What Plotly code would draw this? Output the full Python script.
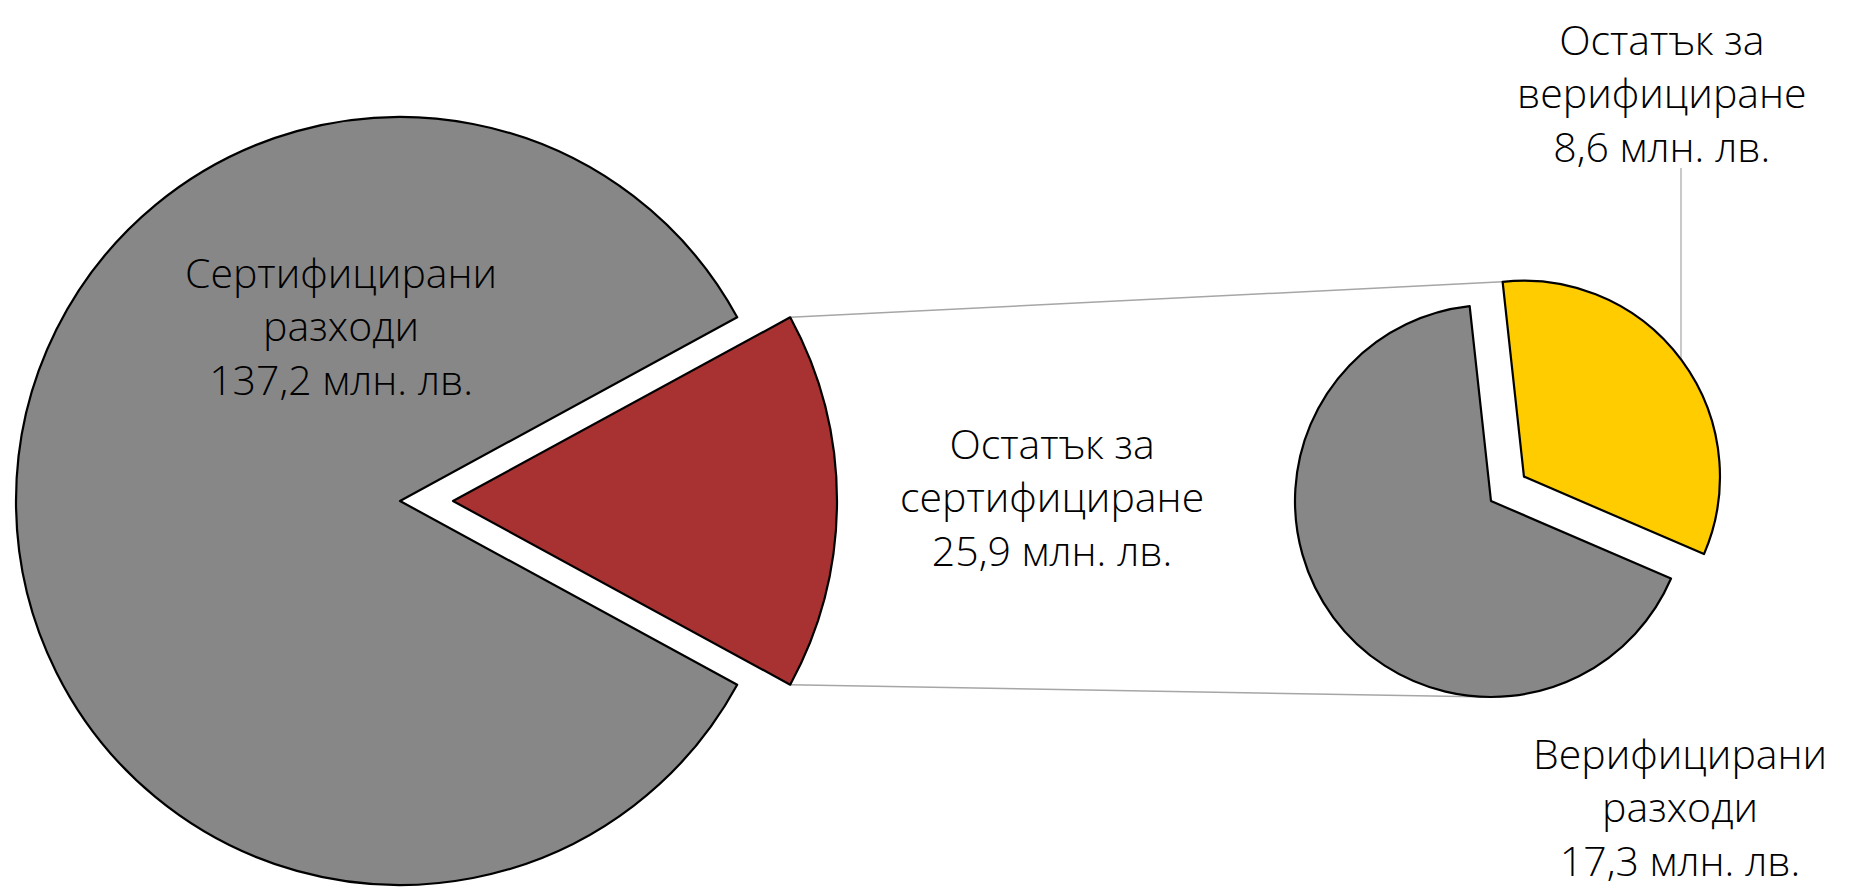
import math
import plotly.graph_objects as go

# ---------------- data ----------------
main_labels = ["Сертифицирани<br>разходи", "Остатък за<br>сертифициране"]
main_values = [137.2, 25.9]
main_colors = ["#878787", "#A83232"]

sub_labels = ["Остатък за<br>верифициране", "Верифицирани<br>разходи"]
sub_values = [8.6, 17.3]
sub_colors = ["#FFCC00", "#878787"]

unit = "млн. лв."

# ---------------- layout geometry (page pixels) ----------------
PAGE_W, PAGE_H = 1856, 890
OFF = 8                      # default body margin of the html page
W, H = PAGE_W - OFF, PAGE_H - OFF

MAIN_C = (400, 501)
MAIN_R = 384
MAIN_PULL = 53           # px offset of the exploded slice
SUB_C = (1491, 501)
SUB_R = 196
SUB_PULL = 41
SUB_ROT = -6.25          # start angle of first sub slice (deg clockwise from 12 o'clock)

FONT = dict(family="'Open Sans', Roboto, Arial, sans-serif", size=41, color="#000000", weight=300)
TRANSP = "rgba(0,0,0,0)"


def px(x):
    return (x - OFF) / W


def py(y):
    return 1 - (y - OFF) / H


def dom(cx, cy, r):
    return dict(x=[px(cx - r), px(cx + r)], y=[py(cy + r), py(cy - r)])


def wrap(a):
    return (a + 180) % 360 - 180


def fmt(v):
    return f"{v:.1f}".replace(".", ",")


fig = go.Figure()

# ---- main pie: exploded slice (index 1) centred at 3 o'clock ----
tot = sum(main_values)
fr = [v / tot for v in main_values]
main_rot = wrap(90 - 360 * (fr[0] + fr[1] / 2))
ex_ang = math.radians(90)
for k in range(2):
    cx = MAIN_C[0] + (MAIN_PULL * math.sin(ex_ang) if k == 1 else 0)
    cy = MAIN_C[1] - (MAIN_PULL * math.cos(ex_ang) if k == 1 else 0)
    fig.add_trace(go.Pie(
        labels=main_labels, values=main_values, sort=False, direction="clockwise",
        rotation=main_rot, domain=dom(cx, cy, MAIN_R), textinfo="none", hoverinfo="label+value",
        marker=dict(colors=[c if i == k else TRANSP for i, c in enumerate(main_colors)],
                    line=dict(color=["#000000" if i == k else TRANSP for i in range(2)],
                              width=[2.2 if i == k else 0 for i in range(2)])),
        showlegend=False,
    ))

# ---- sub pie: exploded slice (index 0) ----
stot = sum(sub_values)
sfr = [v / stot for v in sub_values]
sub_mid = SUB_ROT + 360 * sfr[0] / 2
sm = math.radians(sub_mid)
for k in range(2):
    cx = SUB_C[0] + (SUB_PULL * math.sin(sm) if k == 0 else 0)
    cy = SUB_C[1] - (SUB_PULL * math.cos(sm) if k == 0 else 0)
    fig.add_trace(go.Pie(
        labels=sub_labels, values=sub_values, sort=False, direction="clockwise",
        rotation=SUB_ROT, domain=dom(cx, cy, SUB_R), textinfo="none", hoverinfo="label+value",
        marker=dict(colors=[c if i == k else TRANSP for i, c in enumerate(sub_colors)],
                    line=dict(color=["#000000" if i == k else TRANSP for i in range(2)],
                              width=[2.2 if i == k else 0 for i in range(2)])),
        showlegend=False,
    ))

# ---- connector lines between the exploded slice and the sub pie ----
half = math.radians(360 * fr[1] / 2)
rcx = MAIN_C[0] + MAIN_PULL
top_corner = (rcx + MAIN_R * math.cos(half), MAIN_C[1] - MAIN_R * math.sin(half))
bot_corner = (rcx + MAIN_R * math.cos(half), MAIN_C[1] + MAIN_R * math.sin(half))
ycx = SUB_C[0] + SUB_PULL * math.sin(sm)
ycy = SUB_C[1] - SUB_PULL * math.cos(sm)
a0 = math.radians(SUB_ROT)
sub_top = (ycx + SUB_R * math.sin(a0), ycy - SUB_R * math.cos(a0))
sub_bot = (SUB_C[0], SUB_C[1] + SUB_R)

shapes = []
for p, q in [(top_corner, sub_top), (bot_corner, sub_bot)]:
    shapes.append(dict(type="line", xref="paper", yref="paper",
                       x0=px(p[0]), y0=py(p[1]), x1=px(q[0]), y1=py(q[1]),
                       line=dict(color="#A6A6A6", width=1.5), layer="below"))

# leader line for the small exploded slice label
LX = 1681
dx = LX - ycx
arc_y = ycy - math.sqrt(max(SUB_R ** 2 - dx ** 2, 0))
shapes.append(dict(type="line", xref="paper", yref="paper",
                   x0=px(LX), y0=py(168), x1=px(LX), y1=py(arc_y),
                   line=dict(color="#A6A6A6", width=1.2), layer="below"))

# ---- labels (one multi-line annotation per slice) ----
label_pos = [
    (main_labels[0], main_values[0], 341, 326),
    (main_labels[1], main_values[1], 1052, 497),
    (sub_labels[0], sub_values[0], 1662, 92),
    (sub_labels[1], sub_values[1], 1680, 806),
]
annotations = []
for lab, val, x, y in label_pos:
    annotations.append(dict(text=f"{lab}<br>{fmt(val)} {unit}", x=px(x), y=py(y),
                            xref="paper", yref="paper", align="center",
                            xanchor="center", yanchor="middle", showarrow=False, font=FONT))

fig.update_layout(
    width=W, height=H, margin=dict(l=0, r=0, t=0, b=0),
    paper_bgcolor="#FFFFFF", plot_bgcolor="#FFFFFF",
    shapes=shapes, annotations=annotations, showlegend=False,
)

fig.write_html("out.html")
